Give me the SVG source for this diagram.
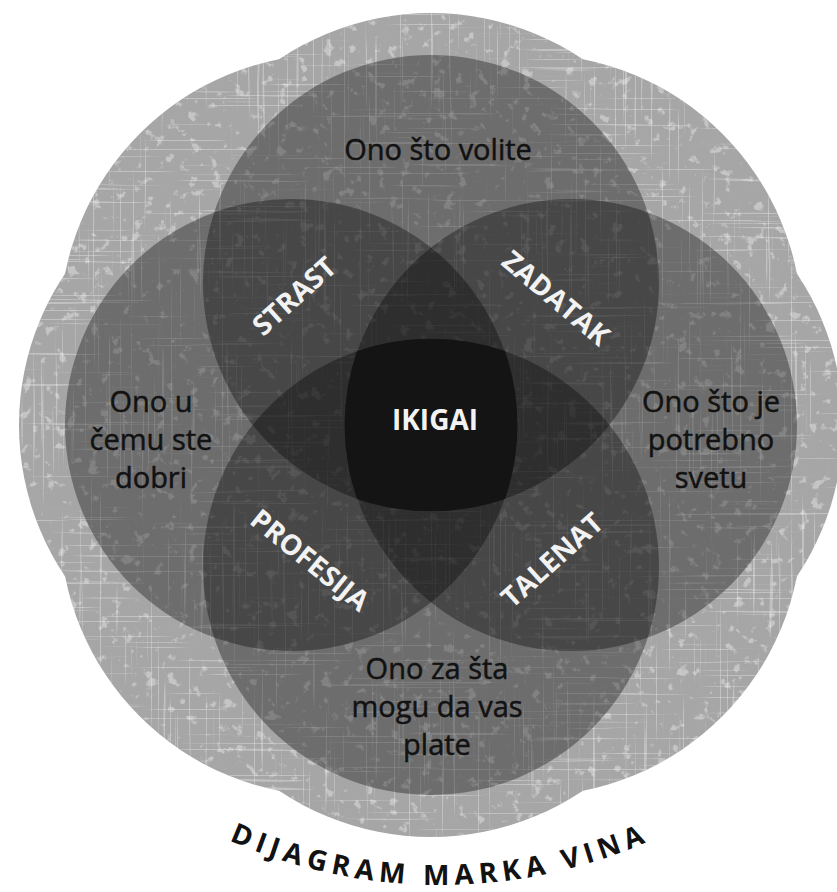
<svg xmlns="http://www.w3.org/2000/svg" width="837" height="892" viewBox="0 0 837 892">
  <style>
    .lobe { fill: #a6a6a6; }
    .set { fill: #000000; fill-opacity: 0.34; }
    .dark { font-family: "Open Sans", "Noto Sans", "DejaVu Sans", sans-serif; font-size: 29px; fill: #121212; stroke: #121212; stroke-width: 0.5px; text-anchor: middle; }
    .white { font-family: "Open Sans", "Noto Sans", "DejaVu Sans", sans-serif; font-size: 28px; font-weight: 700; fill: #f2f2f2; text-anchor: middle; }
    .title { font-family: "Open Sans", "Noto Sans", "DejaVu Sans", sans-serif; font-size: 28px; font-weight: 700; fill: #121212; letter-spacing: 5.5px; }
  </style>
  <defs>
    <filter id="grunge" x="-2%" y="-2%" width="104%" height="104%" color-interpolation-filters="sRGB">
      <feTurbulence type="fractalNoise" baseFrequency="0.09" numOctaves="4" seed="7" result="noise"/>
      <feColorMatrix in="noise" type="matrix" values="0 0 0 0 1  0 0 0 0 1  0 0 0 0 1  9 0 0 0 -5.6" result="spots"/>
      <feComposite in="spots" in2="SourceAlpha" operator="in" result="spotsIn"/>
      <feComponentTransfer in="spotsIn" result="spotsSoft"><feFuncA type="linear" slope="0.35"/></feComponentTransfer>
      <feTurbulence type="fractalNoise" baseFrequency="0.006 0.45" numOctaves="2" seed="3" result="hnoise"/>
      <feColorMatrix in="hnoise" type="matrix" values="0 0 0 0 1  0 0 0 0 1  0 0 0 0 1  12 0 0 0 -7.9" result="hs"/>
      <feComposite in="hs" in2="SourceAlpha" operator="in" result="hsIn"/>
      <feComponentTransfer in="hsIn" result="hsSoft"><feFuncA type="linear" slope="0.3"/></feComponentTransfer>
      <feTurbulence type="fractalNoise" baseFrequency="0.45 0.006" numOctaves="2" seed="11" result="vnoise"/>
      <feColorMatrix in="vnoise" type="matrix" values="0 0 0 0 1  0 0 0 0 1  0 0 0 0 1  12 0 0 0 -8.0" result="vs"/>
      <feComposite in="vs" in2="SourceAlpha" operator="in" result="vsIn"/>
      <feComponentTransfer in="vsIn" result="vsSoft"><feFuncA type="linear" slope="0.3"/></feComponentTransfer>
      <feMerge>
        <feMergeNode in="SourceGraphic"/>
        <feMergeNode in="spotsSoft"/>
        <feMergeNode in="hsSoft"/>
        <feMergeNode in="vsSoft"/>
      </feMerge>
    </filter>
    <path id="titleArc" d="M -10.3 625 A 520 520 0 0 0 890.3 625"/>
  </defs>

  <rect width="837" height="892" fill="#ffffff"/>

  <g id="background" filter="url(#grunge)">
    <circle class="lobe" cx="571" cy="425" r="272"/>
    <circle class="lobe" cx="530" cy="524" r="272"/>
    <circle class="lobe" cx="431" cy="565" r="272"/>
    <circle class="lobe" cx="332" cy="524" r="272"/>
    <circle class="lobe" cx="291" cy="425" r="272"/>
    <circle class="lobe" cx="332" cy="326" r="272"/>
    <circle class="lobe" cx="431" cy="285" r="272"/>
    <circle class="lobe" cx="530" cy="326" r="272"/>
  </g>

  <g id="love">
    <circle class="set" cx="431" cy="283" r="228"/>
    <text class="dark" x="438" y="160">Ono što volite</text>
  </g>

  <g id="good">
    <circle class="set" cx="291" cy="425" r="226"/>
    <text class="dark" x="151" y="412">Ono u</text>
    <text class="dark" x="151" y="450">čemu ste</text>
    <text class="dark" x="151" y="488">dobri</text>
  </g>

  <g id="need">
    <circle class="set" cx="571" cy="425" r="226"/>
    <text class="dark" x="711" y="412">Ono što je</text>
    <text class="dark" x="711" y="450">potrebno</text>
    <text class="dark" x="711" y="488">svetu</text>
  </g>

  <g id="paid">
    <circle class="set" cx="431" cy="567" r="228"/>
    <text class="dark" x="437" y="679">Ono za šta</text>
    <text class="dark" x="437" y="717">mogu da vas</text>
    <text class="dark" x="437" y="755">plate</text>
  </g>

  <g id="ikigai">
    <path d="M357,351 A228,228 0 0 1 505,351 A226,226 0 0 1 505,499 A228,228 0 0 1 357,499 A226,226 0 0 1 357,351 Z" fill="#131313" fill-opacity="0.93"/>
    <text class="white" x="435" y="430">IKIGAI</text>
  </g>

  <g id="strast">
    <text class="white" transform="translate(294,296) rotate(-42)" x="0" y="10">STRAST</text>
  </g>
  <g id="zadatak">
    <text class="white" transform="translate(556,298) rotate(40)" x="0" y="10">ZADATAK</text>
  </g>
  <g id="profesija">
    <text class="white" transform="translate(310,560) rotate(39)" x="0" y="10">PROFESIJA</text>
  </g>
  <g id="talenat">
    <text class="white" transform="translate(552,560) rotate(-42)" x="0" y="10">TALENAT</text>
  </g>

  <g id="connectors"></g>

  <g id="title">
    <text class="title"><textPath href="#titleArc" startOffset="50%" text-anchor="middle">DIJAGRAM MARKA VINA</textPath></text>
  </g>
</svg>
